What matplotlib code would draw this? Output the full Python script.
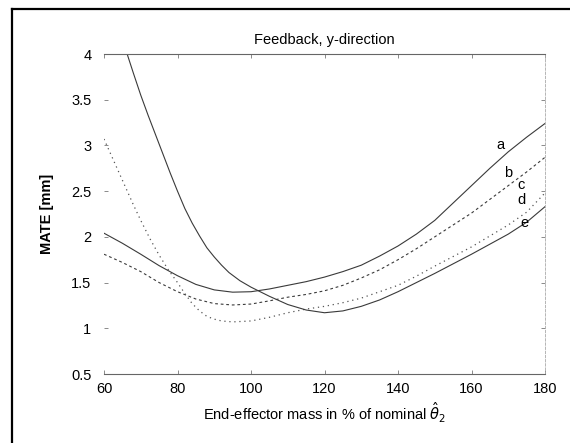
import matplotlib.pyplot as plt
from matplotlib.lines import Line2D

# curve data (x: mass in %, y: MATE in mm)
x_a = [60, 65, 70, 75, 80, 85, 90, 95, 100, 105, 110, 115, 120, 125, 130, 135, 140, 145, 150, 155, 160, 165, 170, 175, 180]
y_a = [2.04, 1.93, 1.81, 1.685, 1.575, 1.48, 1.42, 1.395, 1.40, 1.43, 1.47, 1.51, 1.56, 1.62, 1.69, 1.79, 1.90, 2.03, 2.18, 2.37, 2.56, 2.75, 2.93, 3.09, 3.24]

x_b = [60, 65, 70, 75, 80, 85, 90, 95, 100, 105, 110, 115, 120, 125, 130, 135, 140, 145, 150, 155, 160, 165, 170, 175, 180]
y_b = [1.81, 1.72, 1.62, 1.50, 1.40, 1.32, 1.27, 1.255, 1.265, 1.30, 1.34, 1.37, 1.41, 1.47, 1.55, 1.64, 1.75, 1.87, 2.00, 2.13, 2.26, 2.41, 2.56, 2.71, 2.87]

x_d = [60, 62, 64, 66, 68, 70, 72.5, 75, 77.5, 80, 82, 84, 86, 88, 90, 92, 95, 100, 105, 110, 115, 120, 125, 130, 135, 140, 145, 150, 160, 170, 175, 180]
y_d = [3.07, 2.89, 2.71, 2.53, 2.35, 2.18, 1.98, 1.80, 1.64, 1.50, 1.38, 1.27, 1.19, 1.13, 1.10, 1.08, 1.07, 1.08, 1.12, 1.17, 1.21, 1.24, 1.28, 1.33, 1.40, 1.47, 1.57, 1.68, 1.89, 2.13, 2.27, 2.48]

x_e = [66.3, 68, 70, 72, 74, 76, 78, 80, 82, 84, 86, 88, 90, 92, 94, 97, 100, 105, 110, 115, 120, 125, 130, 135, 140, 145, 150, 160, 170, 175, 180]
y_e = [4.0, 3.79, 3.55, 3.33, 3.12, 2.91, 2.70, 2.50, 2.31, 2.15, 2.01, 1.88, 1.78, 1.69, 1.61, 1.52, 1.45, 1.35, 1.26, 1.20, 1.17, 1.19, 1.24, 1.31, 1.40, 1.50, 1.60, 1.81, 2.03, 2.16, 2.33]

curve_labels = ['a', 'b', 'c', 'd', 'e']
label_x = [167.8, 170.0, 173.5, 173.7, 174.3]
label_y = [3.00, 2.70, 2.57, 2.40, 2.15]

xticks = [60, 80, 100, 120, 140, 160, 180]
yticks = [0.5, 1, 1.5, 2, 2.5, 3, 3.5, 4]
yticklabels = ['0.5', '1', '1.5', '2', '2.5', '3', '3.5', '4']

plt.rcParams['font.family'] = ['Liberation Sans', 'DejaVu Sans']

fig = plt.figure(figsize=(5.70, 4.43), dpi=100)
ax = fig.add_axes([104/570, 1 - 374/443, 441/570, 320/443])

lc = '#3a3a3a'
ax.plot(x_a, y_a, color=lc, lw=0.8)
ax.plot(x_b, y_b, color=lc, lw=0.8, ls=(0, (2.5, 2.5)))
ax.plot(x_d, y_d, color='#555555', lw=0.9, ls=(0, (1, 3)))
ax.plot(x_e, y_e, color=lc, lw=0.8)

for t, x, y in zip(curve_labels, label_x, label_y):
    ax.text(x, y, t, fontsize=10.5, ha='center', va='center', color='black')

ax.set_xlim(60, 180)
ax.set_ylim(0.5, 4)
ax.set_xticks(xticks)
ax.set_yticks(yticks)
ax.set_yticklabels(yticklabels)
ax.tick_params(direction='in', length=3, width=0.6, color='#777777',
               labelsize=10.5, top=True, right=True)
ax.tick_params(axis='y', pad=9)
ax.tick_params(axis='x', pad=6)

for side in ['top', 'bottom']:
    ax.spines[side].set_color('#666666')
    ax.spines[side].set_linewidth(0.8)
ax.spines['left'].set_visible(False)
ax.spines['right'].set_color('#aaaaaa')
ax.spines['right'].set_linewidth(0.6)
ax.spines['right'].set_linestyle((0, (3, 2)))

ax.set_title('Feedback, y-direction', fontsize=10.5, pad=7)
ax.set_xlabel(r'End-effector mass in % of nominal $\hat{\theta}_2$', fontsize=10.5, labelpad=3)
ax.set_ylabel('MATE [mm]', fontsize=10.5, fontweight='bold', labelpad=12)

# outer frame of the scanned page
fig.add_artist(Line2D([12/570, 12/570], [0, 1 - 9/443], color='black', lw=1.6))
fig.add_artist(Line2D([12/570, 1], [1 - 9/443, 1 - 9/443], color='black', lw=1.6))

fig.savefig('out.png', dpi=100)
